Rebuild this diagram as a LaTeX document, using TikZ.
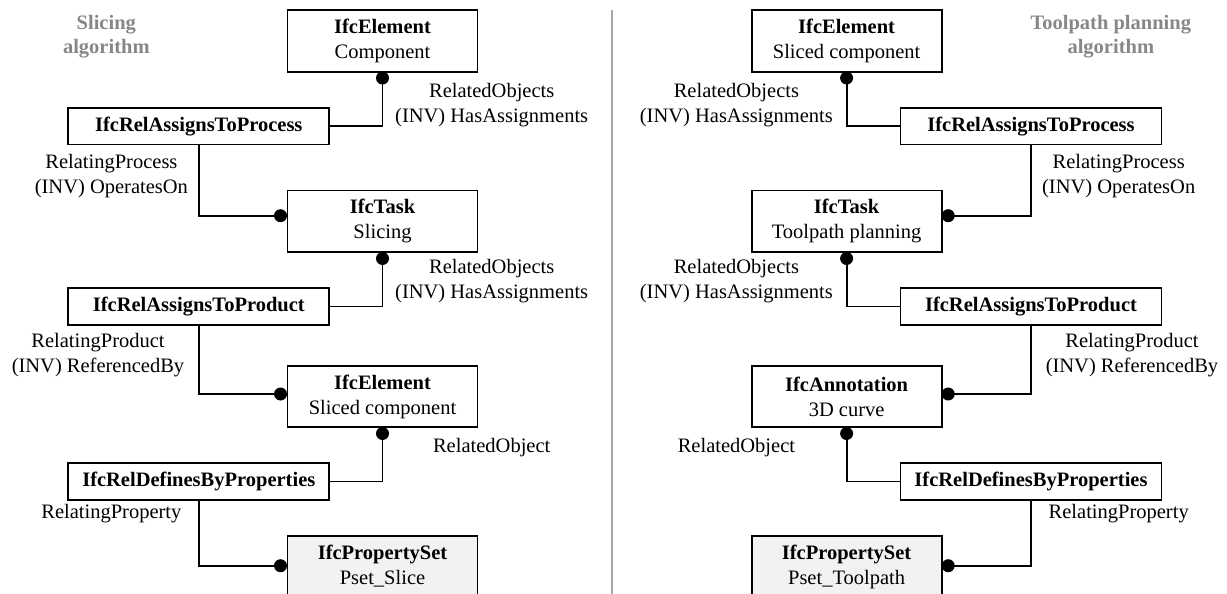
\documentclass[tikz,border=0pt]{standalone}
\usepackage{fontspec}
\setmainfont{Liberation Serif}
\definecolor{headgray}{RGB}{135,135,135}
\definecolor{sepgray}{RGB}{166,166,166}
\definecolor{psetfill}{RGB}{242,242,242}
\begin{document}
\begin{tikzpicture}[x=1pt,y=-1pt,
  every node/.style={font=\fontsize{20.5}{25}\selectfont, align=center},
  entity/.style={draw, line width=1.8pt, minimum width=190pt, minimum height=61.5pt, inner sep=0pt, fill=white},
  relbox/.style={draw, line width=1.8pt, minimum width=261pt, minimum height=36.3pt, inner sep=0pt, fill=white},
  pset/.style={entity, fill=psetfill},
  link/.style={line width=1.8pt},
  knob/.style={circle, fill=black, inner sep=0pt, minimum size=13pt},
  lbl/.style={inner sep=0pt},
  heading/.style={inner sep=0pt, text=headgray, font=\fontsize{20.5}{24}\selectfont\bfseries},
  sepline/.style={draw=sepgray, line width=2pt}
]
\useasboundingbox (0,0) rectangle (1227,594);
\clip (0,0) rectangle (1227,594);

% divider between the two algorithms
\coordinate (sepTop) at (612,10);
\coordinate (sepBot) at (612,594);
\draw[sepline] (sepTop) -- (sepBot);

% ---------------- slicing algorithm ----------------
\node[heading] (hL) at (106.3,36.5) {Slicing\\algorithm};

\node[entity] (lb1) at (382.5,40.9) {\textbf{IfcElement}\\Component};
\node[relbox] (lr1) at (198.8,126.3) {\textbf{IfcRelAssignsToProcess}};
\node[entity] (lb2) at (382.5,221.3) {\textbf{IfcTask}\\Slicing};
\node[relbox] (lr2) at (198.8,306.5) {\textbf{IfcRelAssignsToProduct}};
\node[entity] (lb3) at (382.5,396.5) {\textbf{IfcElement}\\Sliced component};
\node[relbox] (lr3) at (198.8,481.5) {\textbf{IfcRelDefinesByProperties}};
\node[pset]   (lb4) at (382.5,566.5) {\textbf{IfcPropertySet}\\Pset\_Slice};

\node[knob] (ld1) at (382.5,78) {};
\node[knob] (ld2) at (280.5,215.7) {};
\node[knob] (ld3) at (382.5,258.5) {};
\node[knob] (ld4) at (280.5,394) {};
\node[knob] (ld5) at (382.5,433.5) {};
\node[knob] (ld6) at (280.5,565.7) {};

\draw[link] (ld1.center) |- (lr1.east);
\draw[link] (lr1.south) |- (ld2.center);
\draw[link] (ld3.center) |- (lr2.east);
\draw[link] (lr2.south) |- (ld4.center);
\draw[link] (ld5.center) |- (lr3.east);
\draw[link] (lr3.south) |- (ld6.center);

\node[lbl] (ll1) at (491.7,104.8) {RelatedObjects\\(INV) HasAssignments};
\node[lbl] (ll2) at (111.4,175.8) {RelatingProcess\\(INV) OperatesOn};
\node[lbl] (ll3) at (491.7,281.5) {RelatedObjects\\(INV) HasAssignments};
\node[lbl] (ll4) at (98,355) {RelatingProduct\\(INV) ReferencedBy};
\node[lbl] (ll5) at (491.7,447.3) {RelatedObject};
\node[lbl] (ll6) at (111.4,514) {RelatingProperty};

% ---------------- toolpath planning algorithm ----------------
\node[heading] (hR) at (1110.8,36.5) {Toolpath planning\\algorithm};

\node[entity] (rb1) at (846.6,40.9) {\textbf{IfcElement}\\Sliced component};
\node[relbox] (rr1) at (1031,126.3) {\textbf{IfcRelAssignsToProcess}};
\node[entity] (rb2) at (846.6,221.3) {\textbf{IfcTask}\\Toolpath planning};
\node[relbox] (rr2) at (1031,306.5) {\textbf{IfcRelAssignsToProduct}};
\node[entity] (rb3) at (846.6,396.5) {\textbf{IfcAnnotation}\\3D curve};
\node[relbox] (rr3) at (1031,481.5) {\textbf{IfcRelDefinesByProperties}};
\node[pset]   (rb4) at (846.6,566.5) {\textbf{IfcPropertySet}\\Pset\_Toolpath};

\node[knob] (rd1) at (846.6,78) {};
\node[knob] (rd2) at (948.2,215.7) {};
\node[knob] (rd3) at (846.6,258.5) {};
\node[knob] (rd4) at (948.2,394) {};
\node[knob] (rd5) at (846.6,433.5) {};
\node[knob] (rd6) at (948.2,565.7) {};

\draw[link] (rd1.center) |- (rr1.west);
\draw[link] (rr1.south) |- (rd2.center);
\draw[link] (rd3.center) |- (rr2.west);
\draw[link] (rr2.south) |- (rd4.center);
\draw[link] (rd5.center) |- (rr3.west);
\draw[link] (rr3.south) |- (rd6.center);

\node[lbl] (rl1) at (736.4,104.8) {RelatedObjects\\(INV) HasAssignments};
\node[lbl] (rl2) at (1118.7,175.8) {RelatingProcess\\(INV) OperatesOn};
\node[lbl] (rl3) at (736.4,281.5) {RelatedObjects\\(INV) HasAssignments};
\node[lbl] (rl4) at (1132,355) {RelatingProduct\\(INV) ReferencedBy};
\node[lbl] (rl5) at (736.4,447.3) {RelatedObject};
\node[lbl] (rl6) at (1118.7,514) {RelatingProperty};
\end{tikzpicture}
\end{document}
